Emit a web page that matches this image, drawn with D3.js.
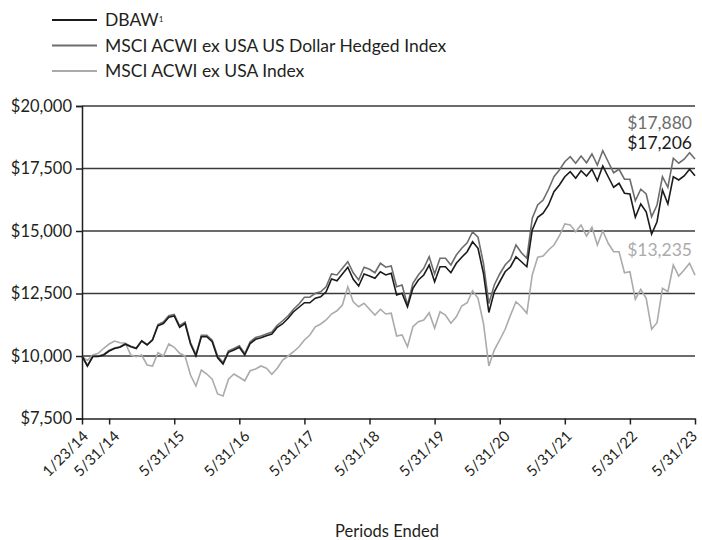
<!DOCTYPE html>
<html>
<head>
<meta charset="utf-8">
<script src="https://cdn.jsdelivr.net/npm/d3@7"></script>
<style>
  body { margin: 0; background: #fff; }
  svg { display: block; }
  text { font-family: Lato, "Open Sans", sans-serif; fill: #231f20; }
</style>
</head>
<body>
<script>

// monthly values, 1/23/14 ... 5/31/23 (114 points)
var dbaw = [10000,9600,9980,9980,10040,10200,10300,10350,10470,10370,
  10300,10600,10440,10640,11210,11300,11550,11600,11150,11300,
  10480,10000,10770,10770,10570,9930,9680,10150,10240,10350,
  10040,10500,10670,10730,10810,10880,11150,11290,11510,11770,
  11950,12130,12130,12310,12370,12570,13080,13010,13280,13550,
  13070,12800,13280,13200,13110,13370,13240,13310,12440,12510,
  11970,12710,13040,13240,13640,12970,13570,13570,13330,13710,
  13950,14170,14570,14310,13310,11740,12570,12970,13370,13570,
  13970,13770,13570,15040,15550,15710,16040,16570,16840,17170,
  17370,17110,17410,17200,17470,17010,17600,17170,16750,16910,
  16510,16480,15550,16080,15770,14880,15370,16640,16080,17170,
  17040,17200,17470,17206];

var hedged = [10000,9610,9990,10000,10060,10220,10320,10370,10490,10390,
  10320,10620,10460,10660,11260,11360,11610,11660,11210,11360,
  10540,10060,10830,10830,10630,9990,9740,10210,10300,10410,
  10100,10570,10740,10800,10880,10960,11230,11410,11610,11870,
  12080,12350,12350,12510,12570,12770,13280,13240,13510,13770,
  13330,13040,13550,13470,13330,13710,13550,13600,12770,12840,
  12040,12910,13240,13510,13970,13280,13910,13910,13640,14040,
  14310,14530,14970,14750,13710,12100,12840,13280,13640,13870,
  14440,14130,13910,15510,16040,16240,16670,17170,17440,17770,
  17970,17710,18000,17730,18080,17640,18210,17770,17330,17470,
  17070,17070,16210,16670,16480,15570,16040,17170,16750,17910,
  17710,17870,18130,17880];

var acwi = [10000,9820,10040,10110,10310,10480,10600,10530,10510,10040,
  9970,10040,9640,9600,10130,10000,10480,10350,10110,10000,
  9240,8800,9440,9280,9070,8480,8400,9070,9280,9150,
  9010,9410,9480,9600,9510,9270,9510,9840,10000,10170,
  10370,10640,10840,11170,11280,11440,11680,11810,12040,12770,
  12170,11970,12110,11870,11640,11870,11680,11710,10800,10840,
  10370,11170,11370,11440,11730,11110,11770,11640,11310,11570,
  12000,12130,12610,12310,11310,9600,10240,10640,11070,11640,
  12170,11970,11710,13240,13950,14000,14240,14440,14800,15280,
  15240,14970,15240,14800,15150,14440,15010,14510,14170,14170,
  13330,13370,12270,12670,12310,11070,11330,12710,12570,13640,
  13200,13440,13710,13235];

var tickIndex = [0,5,17,29,41,53,65,77,89,101,113];
var tickLabels = ["1/23/14","5/31/14","5/31/15","5/31/16","5/31/17","5/31/18",
  "5/31/19","5/31/20","5/31/21","5/31/22","5/31/23"];
var yTicks = [7500,10000,12500,15000,17500,20000];

var seriesNames = ["DBAW", "MSCI ACWI ex USA US Dollar Hedged Index", "MSCI ACWI ex USA Index"];
var seriesColors = ["#1b1b1b", "#6d6d6d", "#ababab"];
var endLabels = ["$17,206", "$17,880", "$13,235"];

(function(){

var width = 702, height = 540;
var left = 82, right = 695, plotTop = 106, bottom = 418.5;

var svg = d3.select("body").append("svg")
  .attr("width", width).attr("height", height);

var x = d3.scaleLinear().domain([0, dbaw.length - 1]).range([left, right]);
var y = d3.scaleLinear().domain([7500, 20000]).range([bottom, plotTop]);
var fmt = d3.format(",");

// grid lines
svg.append("g").selectAll("line")
  .data(yTicks.slice(1))
  .enter().append("line")
  .attr("x1", left).attr("x2", right)
  .attr("y1", function(d){ return y(d); })
  .attr("y2", function(d){ return y(d); })
  .style("stroke", "#3a3a3a")
  .style("stroke-width", 1.5);

// lines
var line = d3.line()
  .x(function(d, i){ return x(i); })
  .y(function(d){ return y(d); });

var all = [dbaw, hedged, acwi];
[2, 1, 0].forEach(function(k){
  svg.append("path")
    .datum(all[k])
    .attr("d", line)
    .style("fill", "none")
    .style("stroke", seriesColors[k])
    .style("stroke-width", 1.6)
    .style("stroke-linejoin", "miter");
});

// y axis
var yAxis = svg.append("g")
  .attr("transform", "translate(" + left + ",0)")
  .call(d3.axisLeft(y).tickValues(yTicks).tickSize(6).tickPadding(4)
    .tickFormat(function(d){ return "$" + fmt(d); }));
yAxis.selectAll("path, line").style("stroke", "#231f20").style("stroke-width", 1.5);
yAxis.selectAll("text").style("font-size", "16.5px").style("font-family", "Lato, sans-serif").style("fill", "#231f20");

// x axis
var xAxis = svg.append("g")
  .attr("transform", "translate(0," + bottom + ")")
  .call(d3.axisBottom(x).tickValues(tickIndex).tickSize(6).tickSizeOuter(0)
    .tickFormat(function(d, i){ return tickLabels[i]; }));
xAxis.selectAll("path, line").style("stroke", "#231f20").style("stroke-width", 1.5);
xAxis.selectAll("text")
  .style("font-size", "15px").style("font-family", "Lato, sans-serif").style("fill", "#231f20")
  .attr("text-anchor", "end")
  .attr("dy", "0.35em")
  .attr("transform", function(d, i){
    var dx = i === 0 ? 3 : (i === 10 ? -1 : (i > 7 ? 4 : 7));
    return "translate(" + dx + ",15) rotate(-45)";
  })
  .attr("y", 0).attr("x", 0);

// end labels
var endY = [143, 123, 250];
[1, 0, 2].forEach(function(k){
  svg.append("text")
    .attr("x", 692).attr("y", endY[k])
    .attr("dy", "0.35em")
    .attr("text-anchor", "end")
    .style("font-size", "17.5px")
    .style("fill", k === 0 ? "#1b1b1b" : seriesColors[k])
    .text(endLabels[k]);
});

// legend
var legend = svg.append("g");
seriesNames.forEach(function(name, k){
  var ly = 20 + k * 25.5;
  legend.append("line")
    .attr("x1", 52).attr("x2", 97)
    .attr("y1", ly).attr("y2", ly)
    .style("stroke", seriesColors[k]).style("stroke-width", 2);
  var t = legend.append("text")
    .attr("x", 105).attr("y", ly).attr("dy", "0.35em")
    .style("font-size", "17.5px")
    .text(name);
  if (k === 0) {
    t.append("tspan").attr("dy", "-0.55em").style("font-size", "8px").text("1");
  }
});

// x title
svg.append("text")
  .attr("x", 387).attr("y", 531).attr("dy", "0.35em")
  .attr("text-anchor", "middle")
  .style("font-size", "16.5px")
  .text("Periods Ended");

})();
</script>
</body>
</html>
